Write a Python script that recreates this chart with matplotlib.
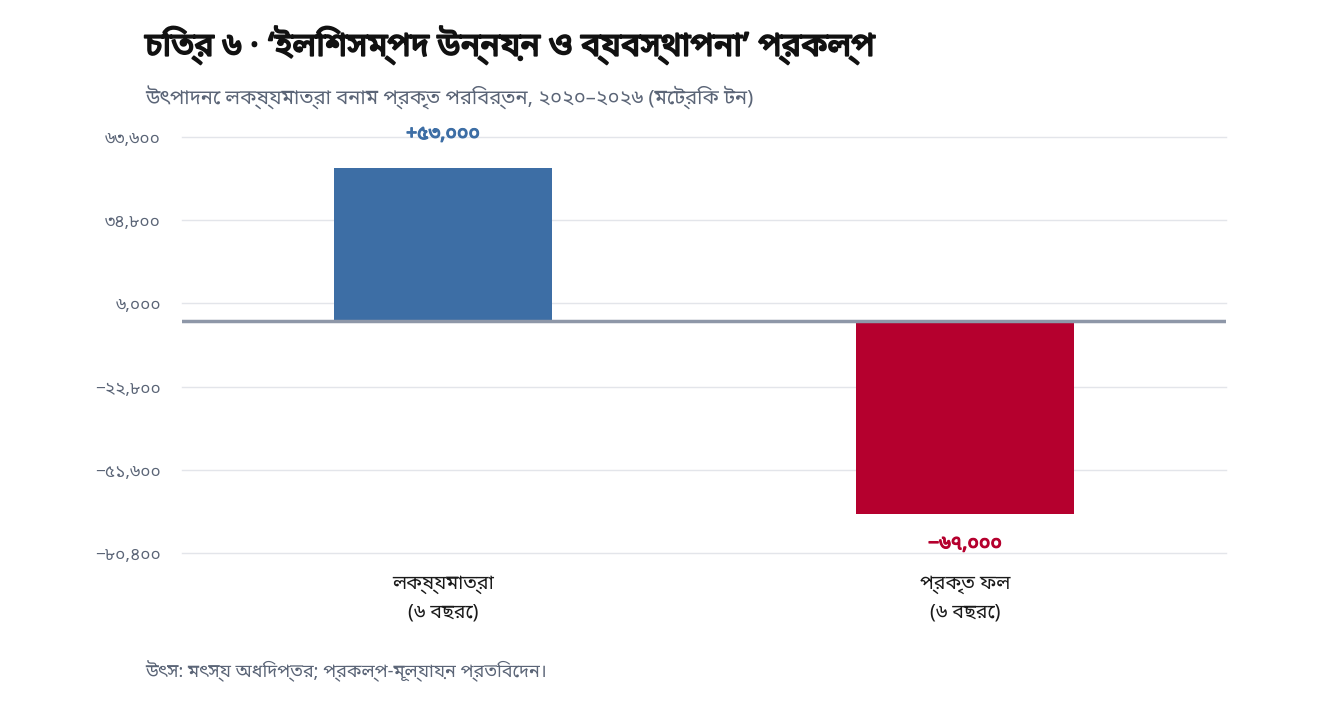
import matplotlib
matplotlib.use("Agg")
import matplotlib.pyplot as plt
import matplotlib.patheffects as pe
from matplotlib import font_manager
from matplotlib.ticker import FixedLocator, FixedFormatter

# ---- data ----
categories = ["লক্ষ্যমাত্রা\n(৬ বছরে)", "প্রকৃত ফল\n(৬ বছরে)"]
values = [53000, -67000]
value_labels = ["+৫৩,০০০", "−৬৭,০০০"]
tick_values = [63600, 34800, 6000, -22800, -51600, -80400]
tick_labels = ["৬৩,৬০০", "৩৪,৮০০", "৬,০০০", "−২২,৮০০", "−৫১,৬০০", "−৮০,৪০০"]
title = "চিত্র ৬ · ‘ইলিশসম্পদ উন্নয়ন ও ব্যবস্থাপনা’ প্রকল্প"
subtitle = "উৎপাদনে লক্ষ্যমাত্রা বনাম প্রকৃত পরিবর্তন, ২০২০–২০২৬ (মেট্রিক টন)"
source = "উৎস: মৎস্য অধিদপ্তর; প্রকল্প-মূল্যায়ন প্রতিবেদন।"

fam = ["Noto Sans Bengali", "Hind Siliguri", "DejaVu Sans"]
plt.rcParams["font.family"] = fam

# does a real bold face exist?
has_bold = False
for f in font_manager.fontManager.ttflist:
    if f.name == "Noto Sans Bengali":
        w = f.weight
        if isinstance(w, str):
            has_bold = has_bold or w.lower() in ("bold", "semibold", "demibold", "heavy", "black", "extra bold")
        else:
            has_bold = has_bold or w >= 600

def bold_fx(color, lw):
    if has_bold:
        return []
    return [pe.withStroke(linewidth=lw, foreground=color)]

fig = plt.figure(figsize=(13.2, 7.08), dpi=100)
ax = fig.add_axes([182/1320, 1-553/708, (1226-182)/1320, (553-137)/708])

colors = ["#3d6ea5", "#b5002e"]
x = list(range(len(categories)))
ax.bar(x, values, width=0.418, color=colors, zorder=3)
ax.set_xlim(-0.5, 1.5)
ax.set_ylim(tick_values[-1], tick_values[0])
ax.yaxis.set_major_locator(FixedLocator(tick_values))
ax.yaxis.set_major_formatter(FixedFormatter(tick_labels))
ax.grid(axis="y", color="#e3e5ea", linewidth=1, zorder=0)
for gl in ax.get_ygridlines():
    gl.set_clip_on(False)
ax.axhline(0, color="#8e97a8", linewidth=2.5, zorder=4)
for s in ax.spines.values():
    s.set_visible(False)
ax.tick_params(axis="y", length=0, pad=15, labelsize=12.5, labelcolor="#5b6577")
ax.set_xticks(x)
ax.set_xticklabels(categories, fontsize=14, color="#1a1a1a", linespacing=1.55)
ax.tick_params(axis="x", length=0, pad=15)

for xi, v, lab, c in zip(x, values, value_labels, colors):
    off = 24 if v >= 0 else -21.5
    ax.annotate(lab, (xi, v), xytext=(0, off), textcoords="offset points",
                ha="center", va="center", fontsize=14, fontweight="bold", color=c,
                path_effects=bold_fx(c, 0.9))

fig.text(145/1320, 1-45/708, title, fontsize=23.5, fontweight="bold", color="#111111",
         va="center", path_effects=bold_fx("#111111", 1.3))
fig.text(145/1320, 1-98/708, subtitle, fontsize=14.5, color="#5b6577", va="center")
fig.text(145/1320, 1-671/708, source, fontsize=13, color="#5b6577", va="center")

fig.savefig("out.png", dpi=100)
